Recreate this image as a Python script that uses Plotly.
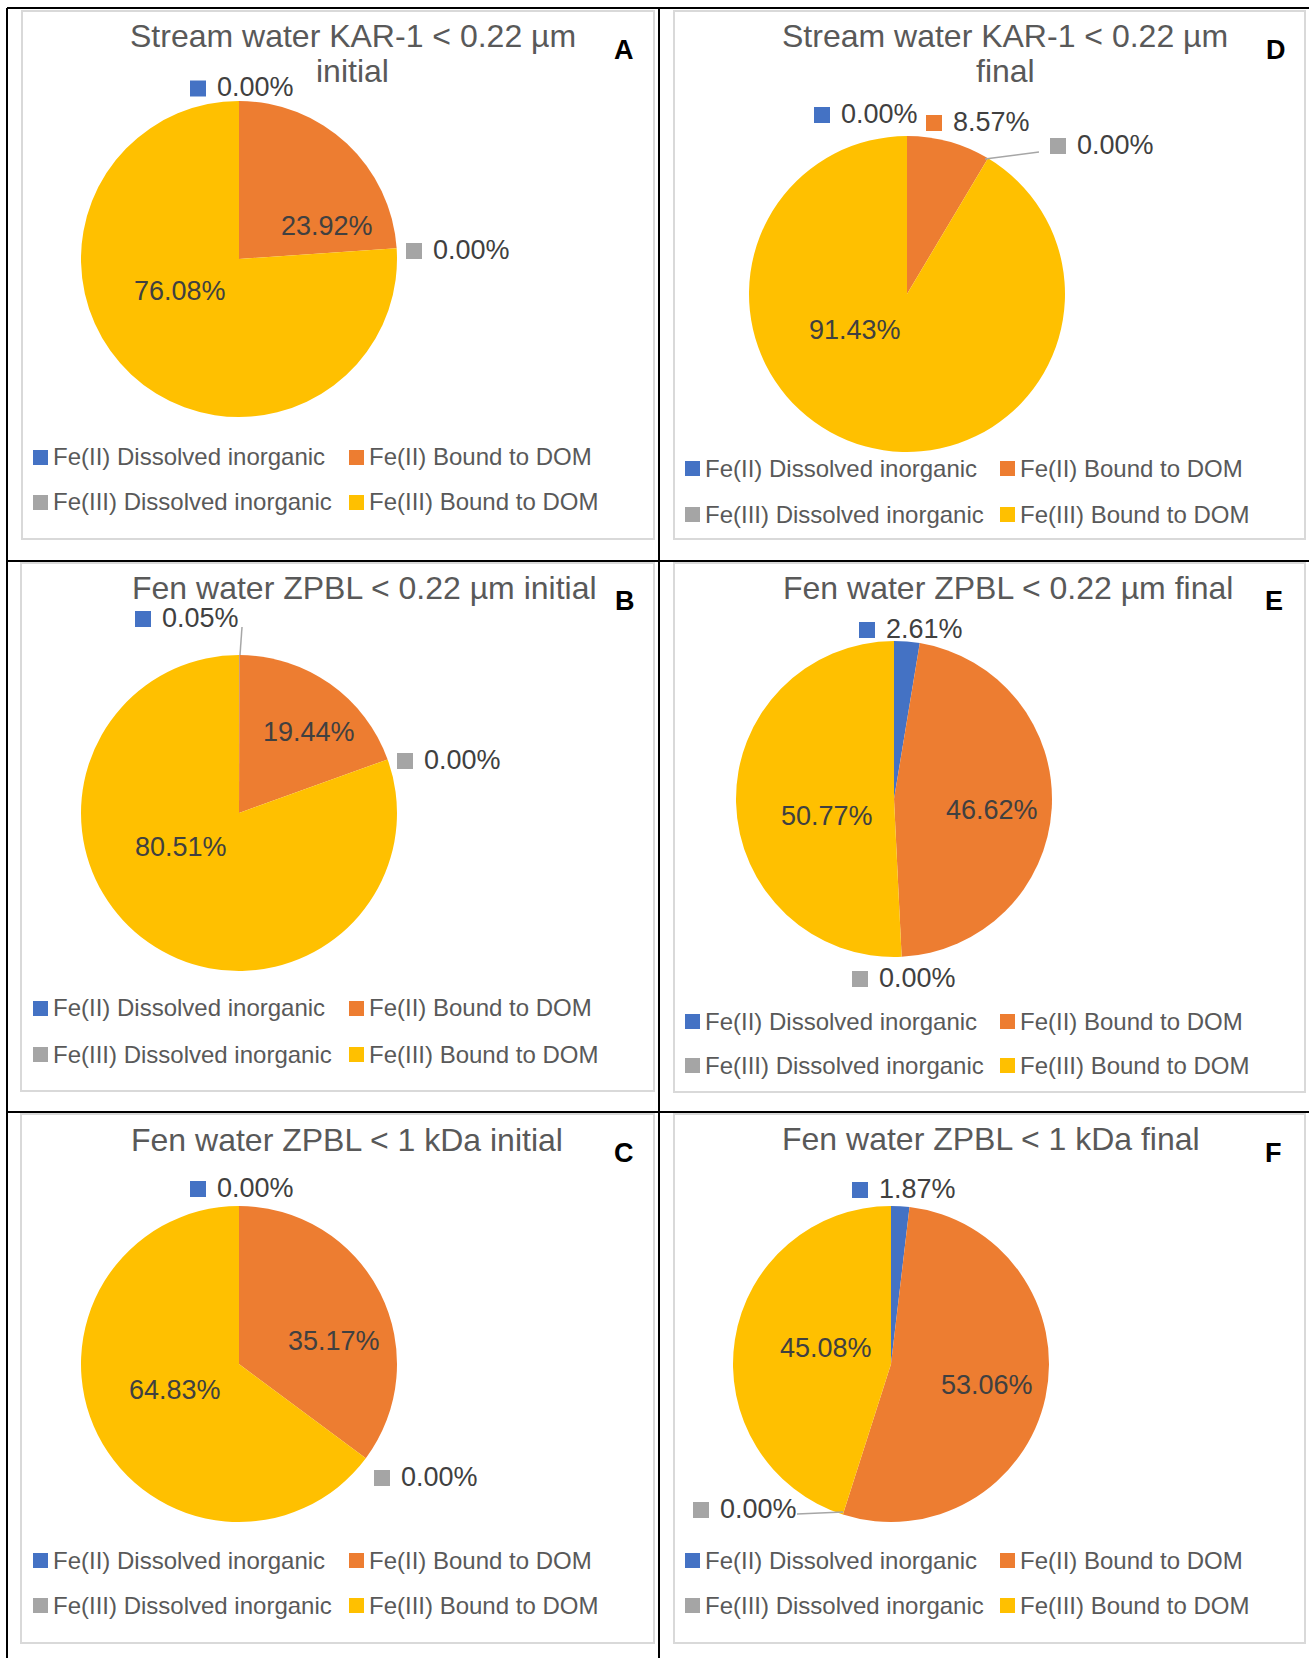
import plotly.graph_objects as go

W, H = 1309, 1658

# ---------------- data ----------------
categories = ["Fe(II) Dissolved inorganic", "Fe(II) Bound to DOM",
              "Fe(III) Dissolved inorganic", "Fe(III) Bound to DOM"]
colors = ["#4472C4", "#ED7D31", "#A5A5A5", "#FFC000"]

letters = ["A", "D", "B", "E", "C", "F"]
titles = [
    ["Stream water KAR-1 < 0.22 µm", "initial"],
    ["Stream water KAR-1 < 0.22 µm", "final"],
    ["Fen water ZPBL < 0.22 µm initial"],
    ["Fen water ZPBL < 0.22 µm final"],
    ["Fen water ZPBL < 1 kDa initial"],
    ["Fen water ZPBL < 1 kDa final"],
]
values_A = [0.00, 23.92, 0.00, 76.08]
values_D = [0.00, 8.57, 0.00, 91.43]
values_B = [0.05, 19.44, 0.00, 80.51]
values_E = [2.61, 46.62, 0.00, 50.77]
values_C = [0.00, 35.17, 0.00, 64.83]
values_F = [1.87, 53.06, 0.00, 45.08]
all_values = [values_A, values_D, values_B, values_E, values_C, values_F]

# ---------------- layout (pixel positions) ----------------
R = 158
panels = [
    dict(box=(22, 11, 654, 539), pie=(239, 259), title_x=353, title_y=[36, 71], letter=(624, 50),
         labels=[("out", 190, 87.5), ("in", 327, 226), ("out", 406, 250), ("in", 180, 291)],
         leaders=[], leg_y=(457, 502), leg_x=(33, 349)),
    dict(box=(674, 11, 1305, 539), pie=(907, 294), title_x=1005, title_y=[36, 71], letter=(1276, 50),
         labels=[("out", 814, 114), ("out", 926, 122), ("out", 1050, 145), ("in", 855, 330)],
         leaders=[(985, 159, 1039, 152)], leg_y=(468, 514), leg_x=(685, 1000)),
    dict(box=(21, 563, 654, 1091), pie=(239, 813), title_x=364, title_y=[588], letter=(625, 601),
         labels=[("out", 135, 618), ("in", 309, 732), ("out", 397, 760), ("in", 181, 847)],
         leaders=[(240, 655, 242, 627)], leg_y=(1008, 1054), leg_x=(33, 349)),
    dict(box=(674, 563, 1305, 1092), pie=(894, 799), title_x=1008, title_y=[588], letter=(1274, 601),
         labels=[("out", 859, 629), ("in", 992, 810), ("out", 852, 978), ("in", 827, 816)],
         leaders=[], leg_y=(1021, 1065), leg_x=(685, 1000)),
    dict(box=(21, 1114, 654, 1643), pie=(239, 1364), title_x=347, title_y=[1140], letter=(624, 1153),
         labels=[("out", 190, 1188), ("in", 334, 1341), ("out", 374, 1477), ("in", 175, 1390)],
         leaders=[], leg_y=(1560, 1605), leg_x=(33, 349)),
    dict(box=(674, 1114, 1305, 1643), pie=(891, 1364), title_x=991, title_y=[1139], letter=(1273, 1153),
         labels=[("out", 852, 1189), ("in", 987, 1385), ("out", 693, 1509), ("in", 826, 1348)],
         leaders=[(797, 1514, 843, 1512)], leg_y=(1560, 1605), leg_x=(685, 1000)),
]

FONT = "Liberation Sans, Arial, sans-serif"
TITLE_C = "#595959"
LABEL_C = "#404040"
LEG_C = "#595959"
SQ = 16


def px(x):
    return x / W


def py(y):
    return 1 - y / H


fig = go.Figure()
shapes = []
annotations = []

for p, vals, ttl, let in zip(panels, all_values, titles, letters):
    x0, y0, x1, y1 = p["box"]
    shapes.append(dict(type="rect", xref="paper", yref="paper",
                       x0=px(x0), x1=px(x1), y0=py(y1), y1=py(y0),
                       line=dict(color="#D9D9D9", width=2), layer="below"))
    cx, cy = p["pie"]
    fig.add_trace(go.Pie(
        labels=categories, values=vals, sort=False, direction="clockwise", rotation=0,
        marker=dict(colors=colors, line=dict(width=0)),
        textinfo="none", textposition="none", hoverinfo="label+percent",
        showlegend=False,
        domain=dict(x=[px(cx - R), px(cx + R)], y=[py(cy + R), py(cy - R)]),
    ))
    # title
    for line, ty in zip(ttl, p["title_y"]):
        annotations.append(dict(x=px(p["title_x"]), y=py(ty), xref="paper", yref="paper",
                                text=line, showarrow=False, xanchor="center", yanchor="middle",
                                font=dict(family=FONT, size=32, color=TITLE_C)))
    lx, ly = p["letter"]
    annotations.append(dict(x=px(lx), y=py(ly), xref="paper", yref="paper",
                            text="<b>%s</b>" % let, showarrow=False, xanchor="center", yanchor="middle",
                            font=dict(family=FONT, size=27, color="#000000")))
    # data labels
    for (kind, lxp, lyp), v, col in zip(p["labels"], vals, colors):
        txt = "%.2f%%" % v
        if kind == "in":
            annotations.append(dict(x=px(lxp), y=py(lyp), xref="paper", yref="paper",
                                    text=txt, showarrow=False, xanchor="center", yanchor="middle",
                                    font=dict(family=FONT, size=27, color=LABEL_C)))
        else:
            shapes.append(dict(type="rect", xref="paper", yref="paper",
                               x0=px(lxp), x1=px(lxp + SQ), y0=py(lyp + SQ / 2 + 1), y1=py(lyp - SQ / 2 + 1),
                               fillcolor=col, line=dict(width=0)))
            annotations.append(dict(x=px(lxp + SQ + 9), y=py(lyp), xref="paper", yref="paper",
                                    text=txt, showarrow=False, xanchor="left", yanchor="middle",
                                    font=dict(family=FONT, size=27, color=LABEL_C)))
    for (ax0, ay0, ax1, ay1) in p["leaders"]:
        shapes.append(dict(type="line", xref="paper", yref="paper",
                           x0=px(ax0), y0=py(ay0), x1=px(ax1), y1=py(ay1),
                           line=dict(color="#A6A6A6", width=1.5)))
    # legend (2 columns x 2 rows)
    for i, (cat, col) in enumerate(zip(categories, colors)):
        row, c = divmod(i, 2)
        gx = p["leg_x"][c]
        gy = p["leg_y"][row]
        shapes.append(dict(type="rect", xref="paper", yref="paper",
                           x0=px(gx), x1=px(gx + 15), y0=py(gy + 8), y1=py(gy - 7),
                           fillcolor=col, line=dict(width=0)))
        annotations.append(dict(x=px(gx + 18), y=py(gy), xref="paper", yref="paper",
                                text=cat, showarrow=False, xanchor="left", yanchor="middle",
                                font=dict(family=FONT, size=24, color=LEG_C)))

# black table grid
black = dict(color="#000000", width=2)
for (a, b, c, d) in [(7, 8, 7, H), (7, 8, W, 8), (659, 8, 659, H), (7, 561, W, 561), (7, 1112, W, 1112)]:
    shapes.append(dict(type="line", xref="paper", yref="paper",
                       x0=px(a), y0=py(b), x1=px(c), y1=py(d), line=black))

fig.update_layout(
    width=W, height=H, autosize=False,
    margin=dict(l=0, r=0, t=0, b=0),
    paper_bgcolor="white", plot_bgcolor="white",
    shapes=shapes, annotations=annotations,
    showlegend=False,
)

fig.write_html(
    "out.html",
    config={"displayModeBar": False},
    post_script="document.body.style.margin='0';document.documentElement.style.overflow='hidden';",
)
